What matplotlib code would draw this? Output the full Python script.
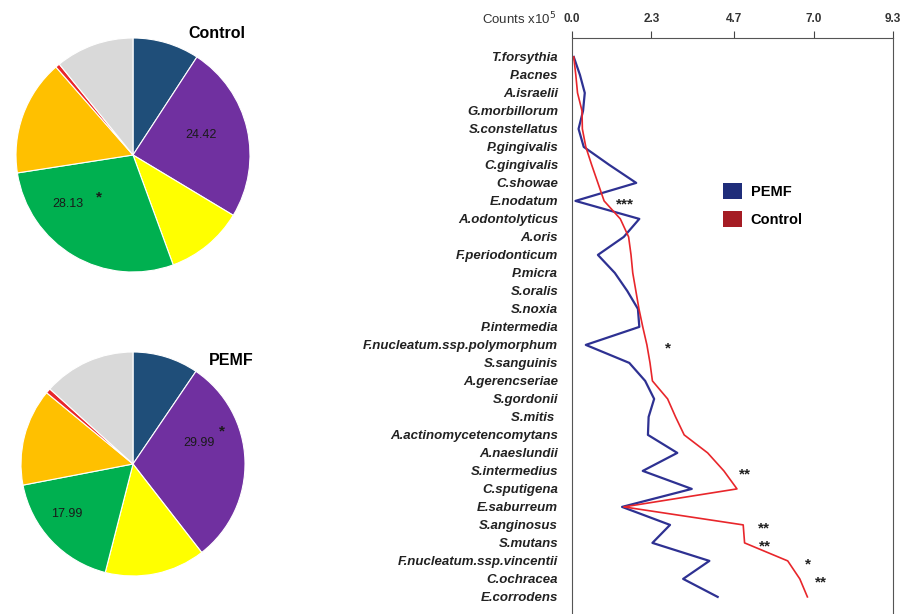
import numpy as np
import matplotlib
matplotlib.use("Agg")
import matplotlib.pyplot as plt
from matplotlib.patches import Patch

plt.rcParams['font.family'] = ['Liberation Sans', 'DejaVu Sans']

# pie data (percent), clockwise from top
pie_colors = ['#1f4e79', '#7030a0', '#ffff00', '#00b050', '#ffc000', '#e8262b', '#d9d9d9']
control_pie = [9.2, 24.42, 10.8, 28.13, 16.0, 0.6, 10.85]
pemf_pie = [9.5, 29.99, 14.5, 17.99, 14.0, 0.7, 13.32]

# species counts (x10^5)
species = ['T.forsythia', 'P.acnes', 'A.israelii', 'G.morbillorum', 'S.constellatus',
           'P.gingivalis', 'C.gingivalis', 'C.showae', 'E.nodatum', 'A.odontolyticus',
           'A.oris', 'F.periodonticum', 'P.micra', 'S.oralis', 'S.noxia', 'P.intermedia',
           'F.nucleatum.ssp.polymorphum', 'S.sanguinis', 'A.gerencseriae', 'S.gordonii',
           'S.mitis ', 'A.actinomycetencomytans', 'A.naeslundii', 'S.intermedius',
           'C.sputigena', 'E.saburreum', 'S.anginosus', 'S.mutans',
           'F.nucleatum.ssp.vincentii', 'C.ochracea', 'E.corrodens']
pemf = [0.05, 0.23, 0.37, 0.32, 0.19, 0.34, 1.08, 1.86, 0.1, 1.95,
        1.5, 0.75, 1.24, 1.6, 1.91, 1.95, 0.4, 1.66, 2.12, 2.38,
        2.22, 2.2, 3.05, 2.05, 3.47, 1.45, 2.84, 2.33, 3.98, 3.22, 4.22]
control = [0.05, 0.11, 0.16, 0.29, 0.3, 0.4, 0.57, 0.75, 0.93, 1.4,
           1.64, 1.71, 1.76, 1.85, 1.94, 2.05, 2.17, 2.26, 2.33, 2.77,
           3.0, 3.25, 3.93, 4.4, 4.78, 1.5, 4.96, 5.0, 6.25, 6.6, 6.82]
signif = {'E.nodatum': '***', 'F.nucleatum.ssp.polymorphum': '*', 'S.intermedius': '**',
          'S.anginosus': '**', 'S.mutans': '**', 'F.nucleatum.ssp.vincentii': '*',
          'C.ochracea': '**'}
xticks = [0.0, 2.3, 4.7, 7.0, 9.3]

W, H = 904, 614
fig = plt.figure(figsize=(W / 100, H / 100), dpi=100)


def px_axes(x0, y0, x1, y1):
    return fig.add_axes([x0 / W, 1 - y1 / H, (x1 - x0) / W, (y1 - y0) / H])


def draw_pie(ax, vals, title, title_pos, labels):
    ax.pie(vals, colors=pie_colors, startangle=90, counterclock=False,
           wedgeprops=dict(edgecolor='white', linewidth=0.8))
    ax.set_xlim(-1, 1)
    ax.set_ylim(-1, 1)
    for (x, y, s, star) in labels:
        ax.text(x, y, s, ha='center', va='center', fontsize=9, color='#1a1a1a')
        if star:
            ax.text(x + star[0], y + star[1], '*', ha='center', va='center',
                    fontsize=11, fontweight='bold', color='#1a1a1a')
    ax.text(title_pos[0], title_pos[1], title, ha='center', va='center',
            fontsize=11.5, fontweight='bold')


ax1 = px_axes(16, 38, 250, 272)
draw_pie(ax1, control_pie, 'Control', (0.72, 1.035),
         [(0.58, 0.17, f'{control_pie[1]:.2f}', None),
          (-0.56, -0.42, f'{control_pie[3]:.2f}', (0.27, 0.06))])

ax2 = px_axes(21, 352, 245, 576)
draw_pie(ax2, pemf_pie, 'PEMF', (0.88, 0.92),
         [(0.59, 0.19, f'{pemf_pie[1]:.2f}', (0.2, 0.1)),
          (-0.59, -0.45, f'{pemf_pie[3]:.2f}', None)])

# line chart
ax = px_axes(572, 38, 893, 614)
y = np.arange(len(species))
ax.plot(pemf, y, color='#2e3192', lw=1.6, label='PEMF')
ax.plot(control, y, color='#e8262b', lw=1.2, label='Control')
for name, s in signif.items():
    i = species.index(name)
    ax.text(control[i] + 0.6, i + 0.2, s, ha='center', va='center',
            fontsize=11, fontweight='bold', color='#222222')

ax.set_xlim(0, 9.3)
ax.set_ylim(len(species) - 0.05, -1.05)
ax.xaxis.tick_top()
ax.set_xticks(xticks)
ax.set_xticklabels([f'{v:.1f}' for v in xticks], fontsize=8.5, fontweight='bold',
                   color='#333333')
ax.tick_params(axis='x', direction='out', length=5, width=0.8, pad=4, color='#444444')
ax.set_yticks(y)
ax.set_yticklabels(species, fontsize=9.5, fontweight='bold', fontstyle='italic',
                   color='#222222')
ax.tick_params(axis='y', length=0, pad=10)
ax.spines['bottom'].set_visible(False)
for sp in ['top', 'left', 'right']:
    ax.spines[sp].set_color('#555555')
    ax.spines[sp].set_linewidth(0.8)

fig.text(556 / W, 1 - 19 / H, 'Counts x10$^5$', ha='right', va='center',
         fontsize=9.5, color='#333333')

handles = [Patch(facecolor='#1f2d7a', label='PEMF'),
           Patch(facecolor='#a51c24', label='Control')]
ax.legend(handles=handles, loc='upper left', bbox_to_anchor=(0.43, 0.771),
          frameon=False, handlelength=1.3, handleheight=1.3, handletextpad=0.6,
          labelspacing=0.85, prop=dict(weight='bold', size=10.5))

fig.savefig('out.png', dpi=100)
